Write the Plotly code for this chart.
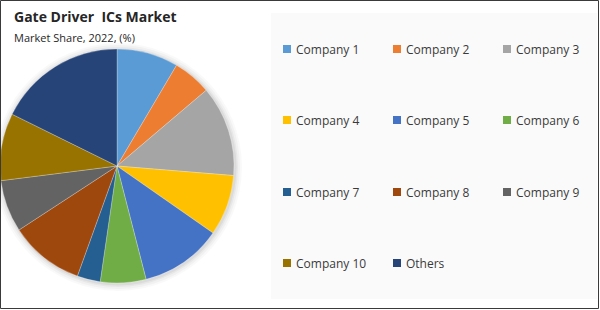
import plotly.graph_objects as go

title_text = "Gate Driver  ICs Market"
subtitle_text = "Market Share, 2022, (%)"
labels = ["Company 1", "Company 2", "Company 3", "Company 4", "Company 5", "Company 6",
          "Company 7", "Company 8", "Company 9", "Company 10", "Others"]
shares = [8.5, 5.3, 12.5, 8.4, 11.3, 6.3, 3.2, 10.3, 7.2, 9.3, 17.7]
colors = ["#5B9BD5", "#ED7D31", "#A5A5A5", "#FFC000", "#4472C4", "#70AD47",
          "#255E91", "#9E480E", "#636363", "#997300", "#264478"]

W, H = 600, 310
FONT = "Open Sans, Noto Sans, sans-serif"

fig = go.Figure()

# pie center (117,166), radius 117
cx, cy, r = 117, 166, 117
fig.add_trace(go.Pie(
    labels=labels, values=shares, sort=False, direction="clockwise", rotation=0,
    marker=dict(colors=colors, line=dict(color="rgba(255,255,255,0.5)", width=0.5)),
    textinfo="none", hoverinfo="label+percent", showlegend=False,
    domain=dict(x=[(cx - r) / W, (cx + r) / W], y=[(H - cy - r) / H, (H - cy + r) / H]),
))

shapes = []
annotations = []

# soft shadow around the pie
for k, a in [(7, 0.025), (5, 0.03), (3, 0.04), (1.5, 0.05)]:
    shapes.append(dict(type="circle", xref="paper", yref="paper",
                       x0=(cx - r - k + 1) / W, x1=(cx + r + k + 1) / W,
                       y0=1 - (cy + r + k + 1) / H, y1=1 - (cy - r - k + 1) / H,
                       fillcolor="rgba(0,0,0,%s)" % a, line=dict(width=0), layer="below"))

# legend panel
shapes.append(dict(type="rect", xref="paper", yref="paper",
                   x0=271 / W, x1=597 / W, y0=1 - 299 / H, y1=1 - 13 / H,
                   fillcolor="#FAFAFA", line=dict(width=0), layer="below"))

col_x = [283, 393, 503]
row_y = [49, 120, 192, 263]
for i, (lab, col) in enumerate(zip(labels, colors)):
    rx = col_x[i % 3]
    ry = row_y[i // 3]
    shapes.append(dict(type="rect", xref="paper", yref="paper",
                       x0=rx / W, x1=(rx + 8) / W, y0=1 - (ry + 4) / H, y1=1 - (ry - 4) / H,
                       fillcolor=col, line=dict(width=0)))
    annotations.append(dict(text=lab, xref="paper", yref="paper", x=(rx + 11) / W, y=1 - ry / H,
                            xanchor="left", yanchor="middle", showarrow=False,
                            font=dict(family=FONT, size=12, color="#3A3A3A")))

# outer border
shapes.append(dict(type="rect", xref="paper", yref="paper",
                   x0=0.5 / W, x1=1 - 1.5 / W, y0=1.5 / H, y1=1 - 0.5 / H,
                   line=dict(color="#3A3A3A", width=1), fillcolor="rgba(0,0,0,0)"))

annotations.append(dict(text="<b>" + title_text + "</b>", xref="paper", yref="paper",
                        x=12 / W, y=1 - 17 / H, xanchor="left", yanchor="middle", showarrow=False,
                        font=dict(family=FONT, size=14, color="#262626")))
annotations.append(dict(text=subtitle_text, xref="paper", yref="paper",
                        x=12 / W, y=1 - 37 / H, xanchor="left", yanchor="middle", showarrow=False,
                        font=dict(family=FONT, size=11, color="#262626")))

fig.update_layout(width=W, height=H, margin=dict(l=0, r=0, t=0, b=0),
                  paper_bgcolor="white", plot_bgcolor="white",
                  shapes=shapes, annotations=annotations, showlegend=False)

fig.write_html("out.html", config={"displayModeBar": False})
